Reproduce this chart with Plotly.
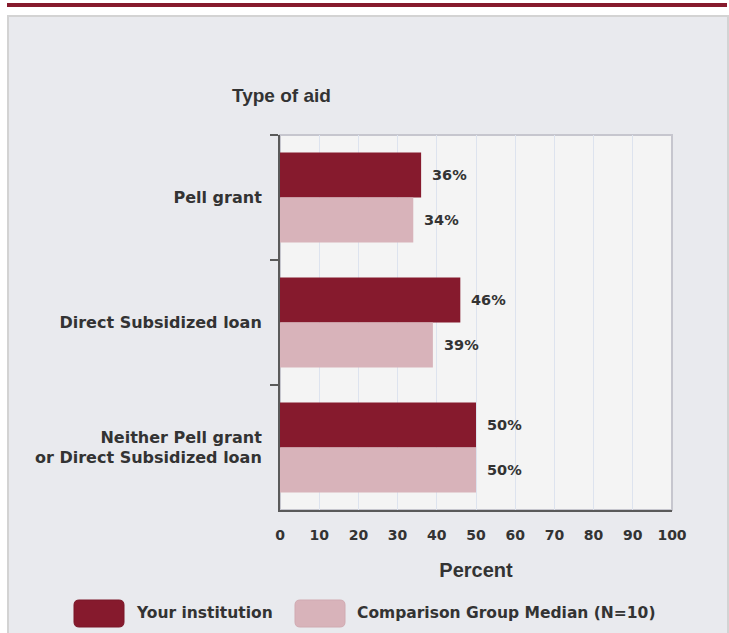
import plotly.graph_objects as go

categories = ["Pell grant", "Direct Subsidized loan", "Neither Pell grant<br>or Direct Subsidized loan"]
your_institution = [36, 46, 50]
comparison_median = [34, 39, 50]
series_names = ["Your institution", "Comparison Group Median (N=10)"]

DARK = "#861a2d"
LIGHT = "#d8b3ba"
TXT = "#333333"
WIDE = "DejaVu Sans, Verdana, sans-serif"
ARIAL = "Liberation Sans, Arial, sans-serif"

W, H = 729, 633
L, R, T, B = 280, 57, 135, 123
PW, PH = W - L - R, H - T - B


def px(x):
    return (x - L) / PW


def py(y):
    return (H - B - y) / PH


def rrect(x0, y0, x1, y1, r):
    # rounded rectangle path, pixel coords -> paper coords
    pts = [
        f"M {px(x0 + r)},{py(y0)}", f"L {px(x1 - r)},{py(y0)}",
        f"Q {px(x1)},{py(y0)} {px(x1)},{py(y0 + r)}", f"L {px(x1)},{py(y1 - r)}",
        f"Q {px(x1)},{py(y1)} {px(x1 - r)},{py(y1)}", f"L {px(x0 + r)},{py(y1)}",
        f"Q {px(x0)},{py(y1)} {px(x0)},{py(y1 - r)}", f"L {px(x0)},{py(y0 + r)}",
        f"Q {px(x0)},{py(y0)} {px(x0 + r)},{py(y0)}", "Z",
    ]
    return " ".join(pts)


fig = go.Figure()
annotations = []
for k, (name, vals, col) in enumerate([(series_names[0], your_institution, DARK),
                                       (series_names[1], comparison_median, LIGHT)]):
    fig.add_trace(go.Bar(
        y=categories, x=vals, name=name, orientation="h", marker_color=col,
        marker_line_width=0, showlegend=False, hoverinfo="x+name",
    ))
    for cat, v in zip(categories, vals):
        annotations.append(dict(
            text=f"{v}%", x=v, y=cat, xref="x", yref="y", showarrow=False,
            xanchor="left", yanchor="middle", xshift=9, yshift=22.5 if k == 0 else -22.5,
            font=dict(size=14.5, color=TXT, family=WIDE, weight="bold"),
        ))

shapes = [
    # top rule
    dict(type="line", xref="paper", yref="paper", x0=px(7), x1=px(727), y0=py(5), y1=py(5),
         line=dict(color=DARK, width=4), layer="below"),
    # panel
    dict(type="rect", xref="paper", yref="paper", x0=px(8), x1=px(728), y0=py(16), y1=py(640),
         fillcolor="#e9eaee", line=dict(color="#d3d3d3", width=2), layer="below"),
    # plot area
    dict(type="rect", xref="paper", yref="paper", x0=0, x1=1, y0=0, y1=1,
         fillcolor="#f4f4f4", line=dict(color="#c6c6ce", width=2), layer="below"),
    # legend swatches
    dict(type="path", xref="paper", yref="paper", path=rrect(74, 600, 124, 627, 5),
         fillcolor=DARK, line=dict(color="#7a1628", width=1)),
    dict(type="path", xref="paper", yref="paper", path=rrect(295, 600, 345, 627, 5),
         fillcolor=LIGHT, line=dict(color="#d0aab1", width=1)),
]

annotations += [
    dict(text="Type of aid", xref="paper", yref="paper", x=px(281), y=py(96),
         showarrow=False, font=dict(size=19, color=TXT, family=ARIAL, weight="bold"),
         xanchor="center", yanchor="middle"),
    dict(text=series_names[0], xref="paper", yref="paper", x=px(134), y=py(613),
         showarrow=False, font=dict(size=15.5, color=TXT, family=WIDE, weight="bold"),
         xanchor="left", yanchor="middle"),
    dict(text=series_names[1], xref="paper", yref="paper", x=px(355), y=py(613),
         showarrow=False, font=dict(size=15.5, color=TXT, family=WIDE, weight="bold"),
         xanchor="left", yanchor="middle"),
]

fig.update_layout(
    width=W, height=H, margin=dict(l=L, r=R, t=T, b=B, pad=0),
    paper_bgcolor="white", plot_bgcolor="rgba(0,0,0,0)",
    barmode="group", bargap=0.28, bargroupgap=0,
    font=dict(family=WIDE, color=TXT),
    shapes=shapes, annotations=annotations,
)
fig.update_xaxes(
    range=[0, 100], dtick=10, showgrid=True, gridcolor="#dde3ee", gridwidth=1,
    zeroline=False, showline=True, linecolor="#5a5a5a", linewidth=2,
    ticks="", ticklabelstandoff=11,
    tickfont=dict(size=14, color=TXT, family=WIDE, weight="bold"),
    title=dict(text="Percent", font=dict(size=20, color=TXT, family=ARIAL, weight="bold"), standoff=21),
)
fig.update_yaxes(
    autorange="reversed", showline=True, linecolor="#5a5a5a", linewidth=2,
    ticks="outside", tickson="boundaries", ticklen=8, tickcolor="#5a5a5a", tickwidth=2,
    ticklabelstandoff=13, showgrid=False,
    tickfont=dict(size=16, color=TXT, family=WIDE, weight="bold"),
)

fig.write_html("out.html", config={"displayModeBar": False},
               post_script="document.body.style.margin='0px';")
